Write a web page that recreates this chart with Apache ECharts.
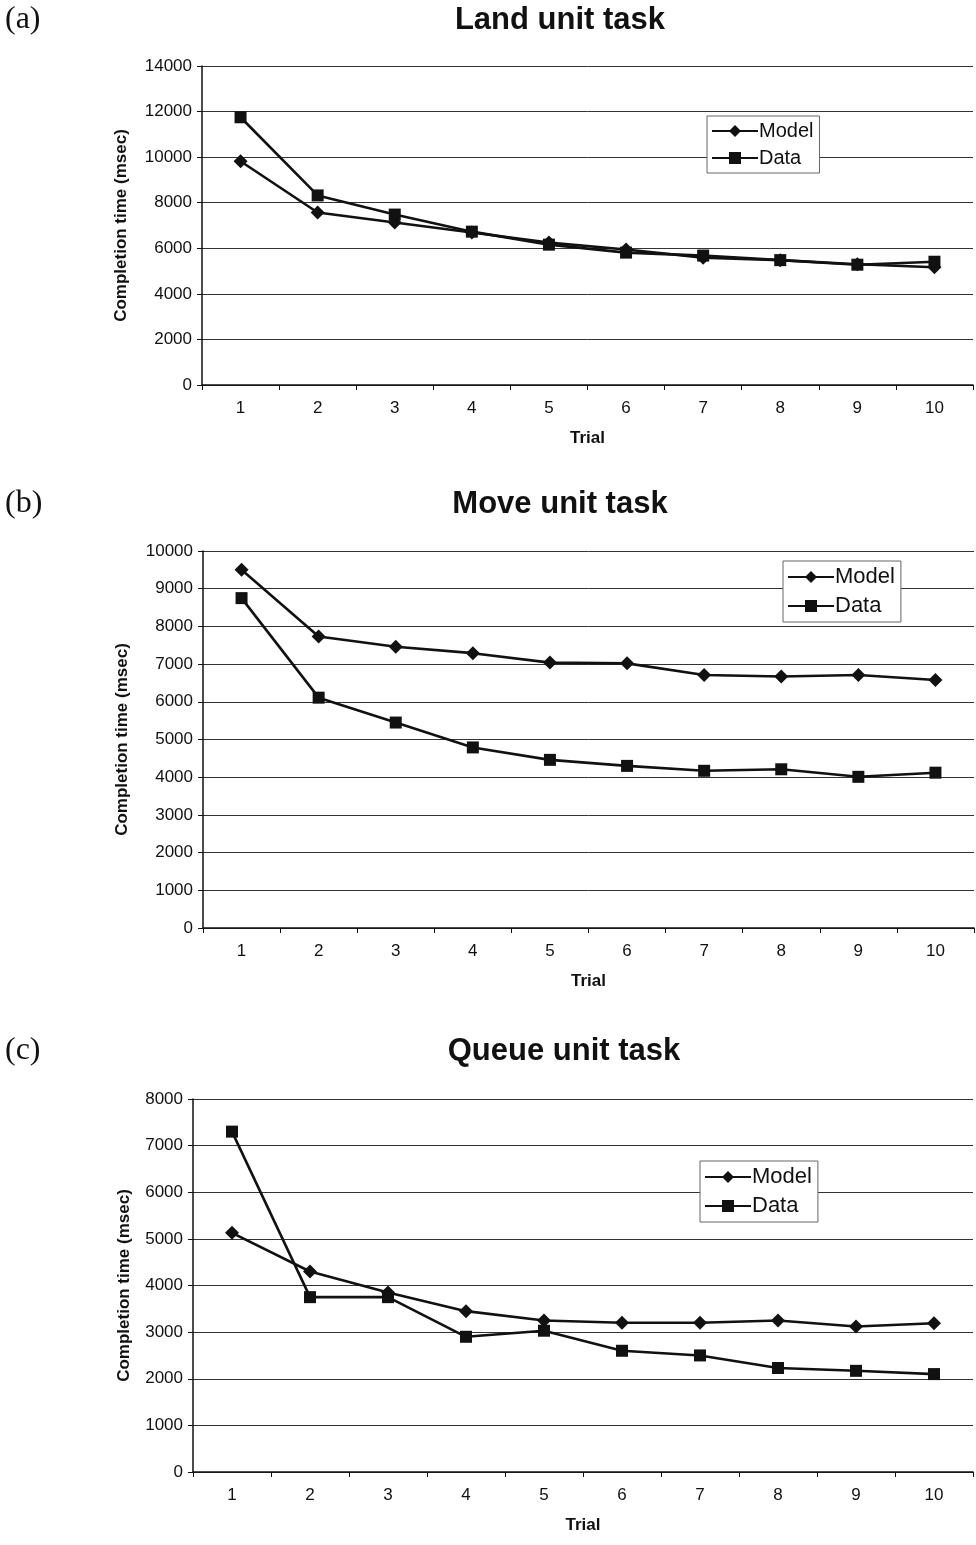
<!DOCTYPE html>
<html>
<head>
<meta charset="utf-8">
<script src="https://cdn.jsdelivr.net/npm/echarts@6/dist/echarts.min.js"></script>
<style>
html,body{margin:0;padding:0;background:#fff;}
#c{width:976px;height:1545px;}
</style>
</head>
<body>
<div id="c"></div>
<script>
var trials = ['1','2','3','4','5','6','7','8','9','10'];
var panelLabels = ['(a)','(b)','(c)'];
var panelTitles = ['Land unit task','Move unit task','Queue unit task'];
var seriesNames = ['Model','Data'];
var yMax = [14000, 10000, 8000];
var yStep = [2000, 1000, 1000];
var landModel = [9820, 7570, 7130, 6690, 6250, 5950, 5590, 5480, 5300, 5170];
var landData = [11750, 8320, 7480, 6730, 6160, 5810, 5680, 5480, 5280, 5410];
var moveModel = [9500, 7730, 7460, 7290, 7040, 7020, 6710, 6670, 6710, 6580];
var moveData = [8750, 6110, 5450, 4790, 4460, 4300, 4170, 4210, 4010, 4120];
var queueModel = [5130, 4300, 3850, 3450, 3250, 3200, 3200, 3250, 3120, 3190];
var queueData = [7300, 3750, 3750, 2900, 3030, 2600, 2500, 2230, 2170, 2100];

var modelSets = [landModel, moveModel, queueModel];
var dataSets = [landData, moveData, queueData];

var grids = [
  {left: 202, top: 66, width: 771, height: 319},
  {left: 203, top: 551, width: 771, height: 377},
  {left: 193, top: 1099, width: 780, height: 373}
];
var yNameGaps = [72, 72, 60];
var titleY = [20, 504, 1051];
var titleX = [560, 560, 564];
var legendPos = [
  {left: 707, top: 116, fs: 20},
  {left: 783, top: 561, fs: 22},
  {left: 700, top: 1161, fs: 22}
];
var ink = '#111';
var font = '"Liberation Sans", Arial, sans-serif';

var xAxes = [], yAxes = [], series = [], legends = [], graphics = [];
for (var i = 0; i < 3; i++) {
  xAxes.push({
    type: 'category', gridIndex: i, data: trials, boundaryGap: true,
    name: 'Trial', nameLocation: 'middle', nameGap: 45,
    nameTextStyle: {fontFamily: font, fontWeight: 'bold', fontSize: 17, color: ink},
    axisLine: {lineStyle: {color: ink, width: 1.5}},
    axisTick: {show: true, length: 5, lineStyle: {color: ink}},
    axisLabel: {fontFamily: font, fontSize: 17, color: ink, margin: 15},
    splitLine: {show: false}
  });
  yAxes.push({
    type: 'value', gridIndex: i, min: 0, max: yMax[i], interval: yStep[i],
    name: 'Completion time (msec)', nameLocation: 'middle', nameGap: yNameGaps[i],
    nameTextStyle: {fontFamily: font, fontWeight: 'bold', fontSize: 17, color: ink},
    axisLine: {show: true, lineStyle: {color: ink, width: 1.5}},
    axisTick: {show: true, length: 5, lineStyle: {color: ink}},
    axisLabel: {fontFamily: font, fontSize: 17, color: ink, margin: 10,
      formatter: function (v) { return String(v); }},
    splitLine: {show: true, lineStyle: {color: '#333', width: 1}}
  });
  series.push({
    name: seriesNames[0], type: 'line', xAxisIndex: i, yAxisIndex: i,
    data: modelSets[i], symbol: 'diamond', symbolSize: 14,
    lineStyle: {color: ink, width: 2.6}, itemStyle: {color: ink},
    animation: false, z: 3
  });
  series.push({
    name: seriesNames[1], type: 'line', xAxisIndex: i, yAxisIndex: i,
    data: dataSets[i], symbol: 'rect', symbolSize: 12,
    lineStyle: {color: ink, width: 2.6}, itemStyle: {color: ink},
    animation: false, z: 4
  });
  legends.push({
    data: seriesNames, orient: 'vertical', left: legendPos[i].left, top: legendPos[i].top,
    itemWidth: 46, itemHeight: 15, itemGap: 7,
    backgroundColor: '#fff', borderColor: '#666', borderWidth: 1,
    padding: [5, 6, 5, 4],
    textStyle: {fontFamily: font, fontSize: legendPos[i].fs, color: ink, padding: [0, 0, 0, -4]},
    selectedMode: false
  });
  graphics.push({
    type: 'text', x: 5, y: titleY[i],
    style: {text: panelLabels[i], font: '32px "Liberation Serif", "Times New Roman", serif',
      fill: ink, textVerticalAlign: 'middle', textAlign: 'left'}
  });
  graphics.push({
    type: 'text', x: titleX[i], y: titleY[i],
    style: {text: panelTitles[i], font: 'bold 31px "Liberation Sans", Arial, sans-serif',
      fill: ink, textVerticalAlign: 'middle', textAlign: 'center'}
  });
}

var chart = echarts.init(document.getElementById('c'), null, {renderer: 'canvas'});
chart.setOption({
  backgroundColor: '#fff',
  animation: false,
  grid: grids,
  xAxis: xAxes,
  yAxis: yAxes,
  legend: legends,
  series: series,
  graphic: graphics
});
</script>
</body>
</html>
